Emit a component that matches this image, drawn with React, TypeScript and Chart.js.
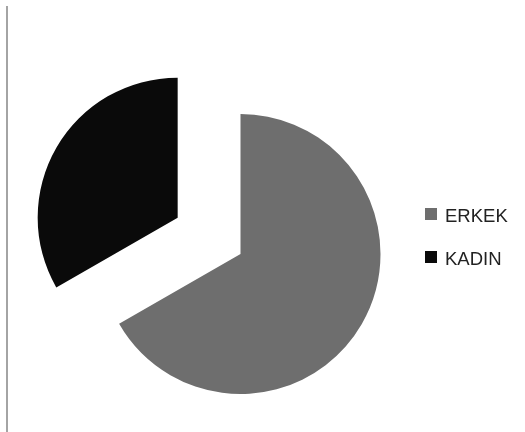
import React, { useEffect, useRef } from "react";
import { Chart, registerables } from "chart.js";

Chart.register(...registerables);

const categories = ["ERKEK", "KADIN"];
const values = [66.7, 33.3];
const colors = ["#6e6e6e", "#0a0a0a"];
const explode = [0, 72.6];

const explodePlugin = {
  id: "explodeSlices",
  afterDatasetUpdate(chart: any, args: any) {
    const meta = args.meta;
    meta.data.forEach((el: any, i: number) => {
      const dist = explode[i] || 0;
      if (!dist || el.__patched) return;
      const orig = el.draw;
      el.draw = function (ctx: CanvasRenderingContext2D, area: any) {
        const mid = (this.startAngle + this.endAngle) / 2;
        ctx.save();
        ctx.translate(Math.cos(mid) * dist, Math.sin(mid) * dist);
        orig.call(this, ctx, area);
        ctx.restore();
      };
      el.__patched = true;
    });
  },
};

const decorPlugin = {
  id: "decor",
  afterDraw(chart: any) {
    const ctx = chart.ctx;
    ctx.save();
    ctx.fillStyle = "#a4a4a4";
    ctx.fillRect(6, 6, 2, 426);
    ctx.font = "18.5px 'Liberation Sans', Arial, sans-serif";
    ctx.textBaseline = "alphabetic";
    categories.forEach((label, i) => {
      const y = 208 + i * 43;
      ctx.fillStyle = colors[i];
      ctx.fillRect(425, y, 12, 12);
      ctx.fillStyle = "#222222";
      ctx.fillText(label, 445, y + 13.5);
    });
    ctx.restore();
  },
};

export default function App() {
  const ref = useRef<HTMLCanvasElement>(null);
  useEffect(() => {
    if (!ref.current) return;
    const chart = new Chart(ref.current, {
      type: "pie",
      data: {
        labels: categories,
        datasets: [
          {
            data: values,
            backgroundColor: colors,
            borderWidth: 0,
            hoverOffset: 0,
          },
        ],
      },
      options: {
        responsive: false,
        animation: false,
        radius: 140,
        layout: { padding: { left: 0, right: 44, top: 76, bottom: 0 } },
        plugins: {
          legend: { display: false },
          tooltip: { enabled: false },
        },
        events: [],
      } as any,
      plugins: [explodePlugin, decorPlugin],
    });
    return () => chart.destroy();
  }, []);
  return (
    <div style={{ position: "fixed", left: 0, top: 0, width: 525, height: 432, background: "#fff" }}>
      <canvas ref={ref} width={525} height={432} />
    </div>
  );
}
